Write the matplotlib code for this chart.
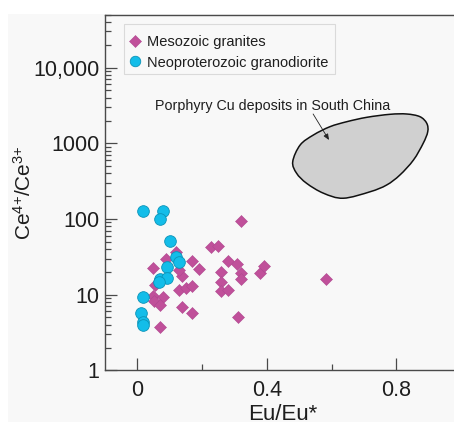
import numpy as np
import matplotlib
matplotlib.use("Agg")
import matplotlib.pyplot as plt
from matplotlib.path import Path
from matplotlib.patches import PathPatch, Rectangle
from matplotlib.ticker import LogLocator, FixedLocator, NullFormatter

plt.rcParams['font.family'] = ['Liberation Sans', 'DejaVu Sans']
plt.rcParams['mathtext.fontset'] = 'custom'
plt.rcParams['mathtext.rm'] = 'Liberation Sans'
plt.rcParams['mathtext.default'] = 'regular'

# Mesozoic granites: Eu/Eu* and Ce4+/Ce3+
meso_eu = [0.320, 0.228, 0.250, 0.120, 0.049, 0.089, 0.170, 0.191, 0.280, 0.309,
           0.259, 0.320, 0.320, 0.379, 0.391, 0.582, 0.138, 0.056, 0.130, 0.150,
           0.170, 0.259, 0.259, 0.280, 0.049, 0.080, 0.053, 0.070, 0.139, 0.170,
           0.310, 0.070, 0.130]
meso_ce = [95.5, 43.3, 44.0, 37.2, 22.5, 29.2, 28.1, 22.0, 28.1, 25.2,
           19.9, 19.1, 16.1, 19.3, 24.2, 16.1, 17.5, 13.4, 11.4, 12.4,
           13.0, 14.8, 11.2, 11.6, 9.5, 9.2, 8.2, 7.2, 6.9, 5.7,
           5.1, 3.8, 21.5]

# Neoproterozoic granodiorite
neo_eu = [0.019, 0.080, 0.070, 0.100, 0.120, 0.130, 0.091, 0.070, 0.091, 0.066,
          0.019, 0.010, 0.019, 0.019]
neo_ce = [127.6, 127.6, 100.0, 51.7, 31.2, 26.8, 23.4, 15.9, 16.6, 14.9,
          9.4, 5.8, 4.4, 4.0]

# Outline of the porphyry Cu deposit field
field_eu = [0.480, 0.503, 0.544, 0.595, 0.647, 0.709, 0.781, 0.832, 0.873, 0.894,
            0.897, 0.883, 0.853, 0.811, 0.770, 0.719, 0.636, 0.575, 0.523, 0.492]
field_ce = [571, 950, 1288, 1657, 1929, 2205, 2416, 2438, 2246, 1837,
            1423, 1000, 602, 381, 281, 229, 188, 219, 296, 402]

x_ticks = [0, 0.4, 0.8]
x_tick_labels = ['0', '0.4', '0.8']
x_minor = [0.2, 0.6, 1.0]
y_ticks = [1, 10, 100, 1000, 10000]
y_tick_labels = ['1', '10', '100', '1000', '10,000']

bg = '#f8f8f8'
spine_c = '#4a4a4a'
text_c = '#1e1e1e'

fig = plt.figure(figsize=(4.54, 4.22), dpi=100)
fig.patch.set_facecolor('white')
fig.patches.append(Rectangle((8 / 454, 0), 1, (422 - 14) / 422,
                             transform=fig.transFigure, facecolor=bg,
                             edgecolor='none', zorder=-10))

ax = fig.add_axes([0.2311, 0.1223, 0.7845, 0.8429])
ax.set_facecolor(bg)
ax.set_yscale('log')
ax.set_xlim(-0.1, 1.0)
ax.set_ylim(1, 5e4)

# smooth closed outline (Catmull-Rom as cubic Bezier in x / log10(y) space)
fx = np.asarray(field_eu, float)
fl = np.log10(np.asarray(field_ce, float))
pts = np.column_stack([fx, fl])
n = len(pts)
verts = [pts[0]]
codes = [Path.MOVETO]
for i in range(n):
    p0, p1, p2, p3 = pts[i - 1], pts[i], pts[(i + 1) % n], pts[(i + 2) % n]
    c1 = p1 + (p2 - p0) / 6.0
    c2 = p2 - (p3 - p1) / 6.0
    verts += [c1, c2, p2]
    codes += [Path.CURVE4] * 3
verts = np.array(verts)
verts[:, 1] = 10 ** verts[:, 1]
ax.add_patch(PathPatch(Path(verts, codes), facecolor='#d0d0d0',
                       edgecolor='#111111', lw=1.1, zorder=2))

ax.text(0.419, 3110, 'Porphyry Cu deposits in South China', ha='center',
        va='center', fontsize=10.3, color=text_c, zorder=5)
ax.annotate('', xy=(0.592, 1106), xytext=(0.543, 2439),
            arrowprops=dict(arrowstyle='-|>,head_length=0.35,head_width=0.15',
                            color='#222222', lw=0.6, shrinkA=0, shrinkB=0),
            zorder=5)

ax.plot(meso_eu, meso_ce, ls='none', marker='D', ms=6.4, mfc='#c0509a',
        mec='#b04890', mew=0.4, zorder=3, label='Mesozoic granites')
ax.plot(neo_eu, neo_ce, ls='none', marker='o', ms=8.4, mfc='#13bde9',
        mec='#0b93b8', mew=0.6, zorder=4, label='Neoproterozoic granodiorite')

# legend box
ax.add_patch(Rectangle((0.0536, 0.832), 0.5926, 0.141, transform=ax.transAxes,
                       facecolor=bg, edgecolor='#dadada', lw=0.8, zorder=6))
leg = ax.legend(loc='center left', bbox_to_anchor=(0.0705, 0.894),
                borderaxespad=0, borderpad=0, frameon=False,
                fontsize=10.5, handlelength=0.7, handletextpad=0.45,
                labelspacing=0.44, markerscale=0.9)
leg.set_zorder(7)
for t in leg.get_texts():
    t.set_color(text_c)

ax.xaxis.set_major_locator(FixedLocator(x_ticks))
ax.set_xticklabels(x_tick_labels)
ax.xaxis.set_minor_locator(FixedLocator(x_minor))
ax.yaxis.set_major_locator(FixedLocator(y_ticks))
ax.set_yticklabels(y_tick_labels)
ax.yaxis.set_minor_locator(LogLocator(base=10, subs=np.arange(2, 10), numticks=20))
ax.yaxis.set_minor_formatter(NullFormatter())

ax.tick_params(which='both', direction='in', color=spine_c, width=0.9,
               labelcolor=text_c, labelsize=15.5, right=False, top=False)
ax.tick_params(which='major', length=8.6)
ax.tick_params(which='minor', length=4.5)
ax.tick_params(axis='x', pad=7)
ax.tick_params(axis='y', pad=4)

for side in ['left', 'bottom', 'top', 'right']:
    ax.spines[side].set_color(spine_c)
    ax.spines[side].set_linewidth(1.0)

ax.set_ylabel('Ce$^{4{+}}$/Ce$^{3{+}}$', fontsize=15, color=text_c)
ax.yaxis.set_label_coords(-0.197, 0.5)
ax.set_xlabel('Eu/Eu*', fontsize=16, color=text_c, labelpad=2)

fig.savefig('out.png', dpi=100, facecolor=fig.get_facecolor())
